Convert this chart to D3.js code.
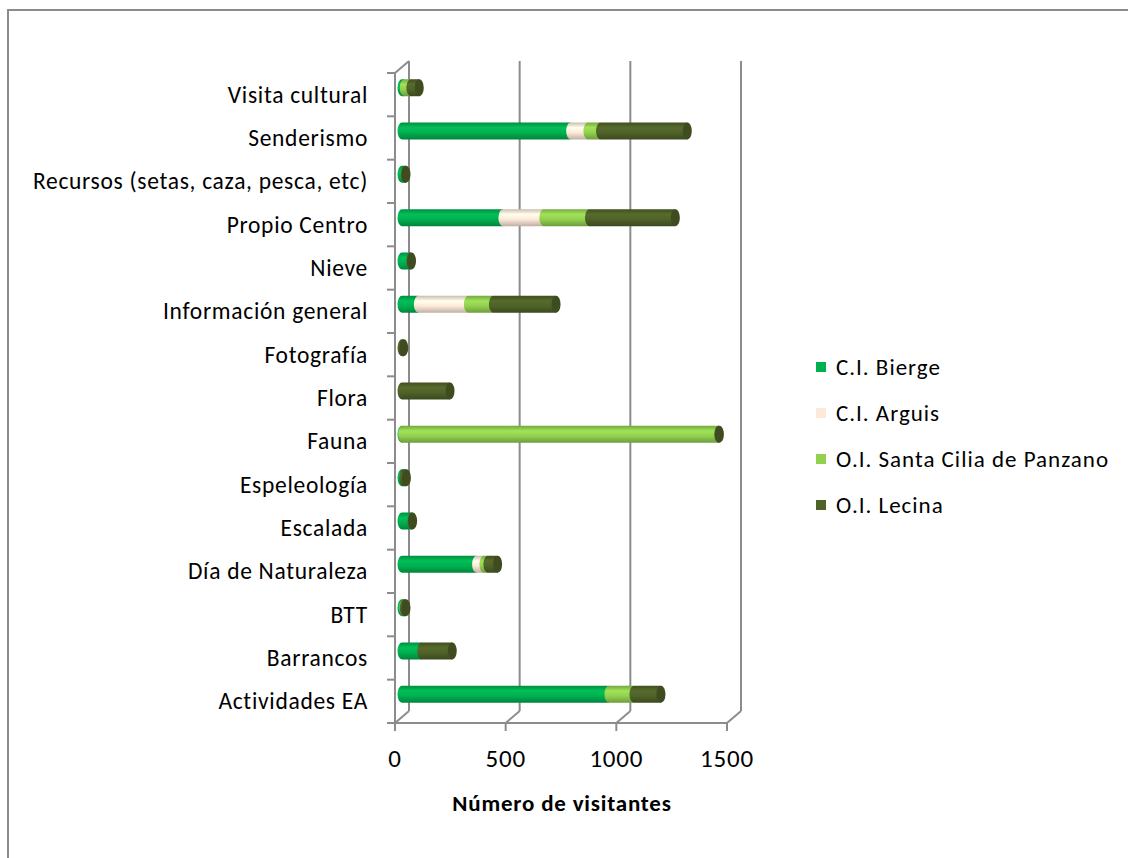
<!DOCTYPE html>
<html>
<head>
<meta charset="utf-8">
<script src="https://cdn.jsdelivr.net/npm/d3@7"></script>
<style>
  body { margin: 0; background: #fff; }
  text { font-family: Carlito, "Open Sans", sans-serif; fill: #000; }
</style>
</head>
<body>
<svg width="1128" height="858"></svg>
<script>
// categories from bottom to top, as in the chart
var categories = ['Actividades EA', 'Barrancos', 'BTT', 'Día de Naturaleza', 'Escalada',
  'Espeleología', 'Fauna', 'Flora', 'Fotografía', 'Información general', 'Nieve',
  'Propio Centro', 'Recursos (setas, caza, pesca, etc)', 'Senderismo', 'Visita cultural'];

var seriesNames = ['C.I. Bierge', 'C.I. Arguis', 'O.I. Santa Cilia de Panzano', 'O.I. Lecina'];
var bierge     = [935,  89, 8, 337, 45,  8,    3,   0, 0,  74, 40, 456, 15, 762, 10];
var arguis     = [  0,   0, 0,  33,  0,  0,    0,   0, 0, 226,  0, 185,  0,  78,  0];
var santaCilia = [113,   0, 2,  18,  0,  0, 1428,   0, 0, 113,  0, 206,  0,  57, 30];
var lecina     = [122, 138, 8,  44,  3, 12,    3, 217, 8, 283,  3, 388,  3, 392, 38];
var seriesColors = ['#00b050', '#fde9d9', '#92d050', '#4f6228'];
var xTicks = [0, 500, 1000, 1500];

var svg = d3.select('svg'),
    depthX = 14, depthY = -12,
    barH = 17, capRx = 4.5;

var x = d3.scaleLinear().domain([0, 1500]).range([395, 727]),
    y = d3.scaleBand().domain(categories.slice().reverse()).range([73, 723]);

var gray = '#8c8c8c';

// outer frame
svg.append('rect')
  .attr('x', 8).attr('y', 10).attr('width', 1140).attr('height', 870)
  .attr('fill', 'none').attr('stroke', gray).attr('stroke-width', 2);

// gradients for the cylinder look
var defs = svg.append('defs');
seriesColors.forEach(function(c, i) {
  var g = defs.append('linearGradient').attr('id', 'grad' + i)
    .attr('x1', 0).attr('y1', 0).attr('x2', 0).attr('y2', 1);
  var base = d3.color(c);
  g.append('stop').attr('offset', 0).attr('stop-color', base.darker(0.6));
  g.append('stop').attr('offset', 0.3).attr('stop-color', base.brighter(0.25));
  g.append('stop').attr('offset', 0.6).attr('stop-color', base);
  g.append('stop').attr('offset', 1).attr('stop-color', base.darker(0.8));
});

var y0 = y.range()[0], y1 = y.range()[1];

// back wall gridlines and floor diagonals
var grid = svg.append('g').attr('stroke', gray).attr('stroke-width', 2).attr('fill', 'none');
xTicks.forEach(function(t) {
  grid.append('line')
    .attr('x1', x(t) + depthX).attr('x2', x(t) + depthX)
    .attr('y1', y0 + depthY).attr('y2', y1 + depthY);
  grid.append('line')
    .attr('x1', x(t)).attr('y1', y1)
    .attr('x2', x(t) + depthX).attr('y2', y1 + depthY);
  grid.append('line')
    .attr('x1', x(t)).attr('x2', x(t))
    .attr('y1', y1).attr('y2', y1 + 8);
});
// front axes
grid.append('line').attr('x1', x(0)).attr('x2', x(1500)).attr('y1', y1).attr('y2', y1);
grid.append('line').attr('x1', x(0)).attr('x2', x(0)).attr('y1', y0).attr('y2', y1);
grid.append('line')
  .attr('x1', x(0)).attr('y1', y0)
  .attr('x2', x(0) + depthX).attr('y2', y0 + depthY);
categories.concat(['_end']).forEach(function(c, i) {
  var yy = y0 + i * y.step();
  grid.append('line').attr('x1', x(0) - 8).attr('x2', x(0)).attr('y1', yy).attr('y2', yy);
});

// stacked cylinders
var series = [bierge, arguis, santaCilia, lecina];
var bars = svg.append('g');
categories.forEach(function(cat, ci) {
  var cy = y(cat) + y.bandwidth() / 2 + depthY / 2 - 1,
      top = cy - barH / 2, bot = cy + barH / 2,
      acc = 0, last = -1;
  series.forEach(function(s, si) {
    var v = s[ci];
    if (v <= 0) return;
    var xa = x(acc) + depthX / 2, xb = x(acc + v) + depthX / 2;
    bars.append('path')
      .attr('d', 'M' + xa + ',' + top + 'L' + xb + ',' + top + 'L' + xb + ',' + bot +
        'L' + xa + ',' + bot + 'A' + capRx + ',' + (barH / 2) + ' 0 0 1 ' + xa + ',' + top + 'Z')
      .attr('fill', 'url(#grad' + si + ')');
    acc += v;
    last = si;
  });
  if (last >= 0) {
    bars.append('ellipse')
      .attr('cx', x(acc) + depthX / 2).attr('cy', cy)
      .attr('rx', capRx).attr('ry', barH / 2)
      .attr('fill', d3.color(seriesColors[last]).darker(0.7));
  }
});

// category labels
svg.append('g').selectAll('text')
  .data(categories).enter().append('text')
  .attr('x', 368)
  .attr('y', function(d) { return y(d) + y.bandwidth() / 2 + 8; })
  .attr('text-anchor', 'end')
  .attr('font-size', 23.5)
  .attr('letter-spacing', 0.7)
  .text(function(d) { return d; });

// x tick labels
svg.append('g').selectAll('text')
  .data(xTicks).enter().append('text')
  .attr('x', function(d) { return x(d); })
  .attr('y', 767)
  .attr('text-anchor', 'middle')
  .attr('font-size', 25)
  .attr('letter-spacing', 0.8)
  .text(function(d) { return d; });

svg.append('text')
  .attr('x', 562).attr('y', 811)
  .attr('text-anchor', 'middle')
  .attr('font-size', 23).attr('font-weight', 'bold')
  .attr('letter-spacing', 0.8)
  .text('Número de visitantes');

// legend
var legend = svg.append('g').selectAll('g')
  .data(seriesNames).enter().append('g')
  .attr('transform', function(d, i) { return 'translate(816,' + (367 + i * 46) + ')'; });
legend.append('rect')
  .attr('x', 0).attr('y', -5).attr('width', 10).attr('height', 10)
  .attr('fill', function(d, i) { return seriesColors[i]; });
legend.append('text')
  .attr('x', 20).attr('y', 8)
  .attr('font-size', 23)
  .attr('letter-spacing', 1)
  .text(function(d) { return d; });
</script>
</body>
</html>
